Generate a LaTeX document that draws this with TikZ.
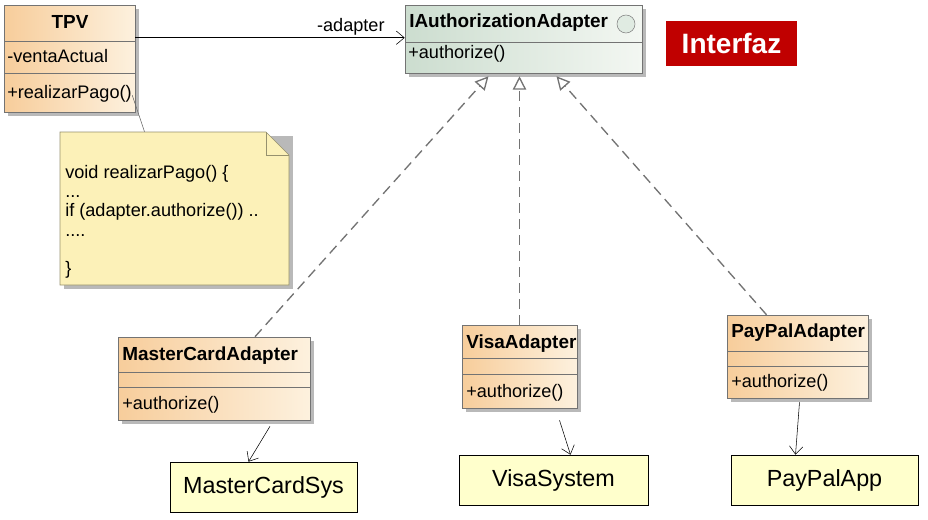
\documentclass[tikz,border=0pt]{standalone}
\usepackage{fontspec}
\setmainfont{Liberation Sans}
\usetikzlibrary{arrows.meta,fit,calc}

\definecolor{claseA}{RGB}{247,205,155}
\definecolor{claseB}{RGB}{253,241,222}
\definecolor{ifazA}{RGB}{204,221,207}
\definecolor{ifazB}{RGB}{243,247,242}
\definecolor{notafill}{RGB}{252,241,184}
\definecolor{notaborde}{RGB}{150,145,110}
\definecolor{sistfill}{RGB}{255,255,204}
\definecolor{rojo}{RGB}{192,0,0}
\definecolor{sombra}{RGB}{185,185,185}

\begin{document}
\begin{tikzpicture}[x=0.75pt,y=-0.75pt]
	\tikzstyle{every node}=[font=\fontsize{13.6}{15}\selectfont]
	\tikzstyle{clase}=[draw=black!55,inner sep=0pt,left color=claseA,right color=claseB]
	\tikzstyle{interfaz}=[draw=black!55,inner sep=0pt,left color=ifazA,right color=ifazB]
	\tikzstyle{sistema}=[draw=black,fill=sistfill,inner sep=0pt]
	\tikzstyle{titulo}=[anchor=base west,inner sep=0pt,font=\fontsize{14.2}{16}\selectfont\bfseries]
	\tikzstyle{miembro}=[anchor=base west,inner sep=0pt]
	\tikzstyle{realiza}=[draw=black!55,line width=1pt,dash pattern=on 7.5pt off 4.5pt,-{Triangle[open,length=10pt,width=10pt]}]
	\tikzstyle{usa}=[draw=black,-{Straight Barb[length=6pt,width=10pt]}]
	
	\useasboundingbox (0,0) rectangle (928,519);
	
	%% sombras
	\fill[sombra] (8,9) rectangle (139,116);
	\fill[sombra] (409,9) rectangle (646,77);
	\fill[sombra] (64,136) rectangle (293,289);
	\fill[sombra] (122,341) rectangle (314,424);
	\fill[sombra] (466,329) rectangle (581,412);
	\fill[sombra] (731,319) rectangle (872,402);
	
	%% clases
	\node[clase, fit={(4,5) (135,112)}] (tpv) {};
	\node[interfaz, fit={(405,5) (642,73)}] (iauth) {};
	\node[clase, fit={(118,337) (310,420)}] (mca) {};
	\node[clase, fit={(462,325) (577,408)}] (visa) {};
	\node[clase, fit={(727,315) (868,398)}] (paypal) {};
	
	\draw[black!55] (4,41) -- (135,41);
	\draw[black!55] (4,73) -- (135,73);
	\draw[black!55] (405,42) -- (642,42);
	\draw[black!55] (118,372) -- (310,372);
	\draw[black!55] (118,387) -- (310,387);
	\draw[black!55] (462,358) -- (577,358);
	\draw[black!55] (462,374) -- (577,374);
	\draw[black!55] (727,351) -- (868,351);
	\draw[black!55] (727,366) -- (868,366);
	\draw[black!50, fill=ifazA!60] (626,24) circle [radius=9];
	
	\node[titulo, anchor=base] at (70,28) {TPV};
	\node[miembro] at (7,62) {-ventaActual};
	\node[miembro] at (7,98) {+realizarPago()};
	\node[titulo] at (409,27) {IAuthorizationAdapter};
	\node[miembro] at (408,58) {+authorize()};
	\node[titulo] at (122,360) {MasterCardAdapter};
	\node[miembro] at (122,409) {+authorize()};
	\node[titulo] at (466,348) {VisaAdapter};
	\node[miembro] at (466,397) {+authorize()};
	\node[titulo] at (731,337) {PayPalAdapter};
	\node[miembro] at (731,387) {+authorize()};
	
	%% nota
	\node[fit={(60,132) (289,285)}, inner sep=0pt] (nota) {};
	\draw[notaborde, fill=notafill] (60,132) -- (266,132) -- (289,155) -- (289,285) -- (60,285) -- cycle;
	\draw[notaborde] (266,132) -- (266,155) -- (289,155);
	\node[miembro] at (65,178) {void realizarPago() \{};
	\node[miembro] at (65,197) {...};
	\node[miembro] at (65,216) {if (adapter.authorize()) ..};
	\node[miembro] at (65,236) {....};
	\node[miembro] at (65,274) {\}};
	\draw[black!60] ($(tpv.south east)+(-3,-17)$) -- ($(nota.north)+(-30,0)$);
	
	%% sistemas
	\node[sistema, fit={(170,462) (357,512)}] (mcsys) {};
	\node at (mcsys.center) [font=\fontsize{17.5}{19}\selectfont] {MasterCardSys};
	\node[sistema, fit={(459,455) (648,505)}] (visasys) {};
	\node at (visasys.center) [font=\fontsize{17.5}{19}\selectfont] {VisaSystem};
	\node[sistema, fit={(731,455) (918,505)}] (ppapp) {};
	\node at (ppapp.center) [font=\fontsize{17.5}{19}\selectfont] {PayPalApp};
	
	\node[fill=rojo, inner sep=0pt, fit={(666,21) (797,66)}] (interfaz) {};
	\node at (interfaz.center) [text=white, font=\fontsize{21}{24}\selectfont\bfseries] {Interfaz};
	
	%% relaciones
	\draw[usa] (tpv.north east) ++(0,33) coordinate (a1) -- (iauth.west |- a1)
		node[pos=0.8, above, inner sep=2pt] {-adapter};
	\draw[realiza] ($(mca.north)+(41,0)$) -- ($(iauth.south)+(-35,3)$);
	\draw[realiza] (visa.north) -- ($(visa.north |- iauth.south)+(0,3)$);
	\draw[realiza] ($(paypal.north)+(-31,0)$) -- ($(iauth.south)+(33,3)$);
	\draw[usa] ($(mca.south)+(56,6)$) -- ($(mcsys.north)+(-15,0)$);
	\draw[usa] ($(visa.south)+(40,12)$) -- ($(visasys.north)+(17,0)$);
	\draw[usa] ($(paypal.south)+(2,4)$) -- ($(ppapp.north)+(-29,0)$);

\end{tikzpicture}
\end{document}
